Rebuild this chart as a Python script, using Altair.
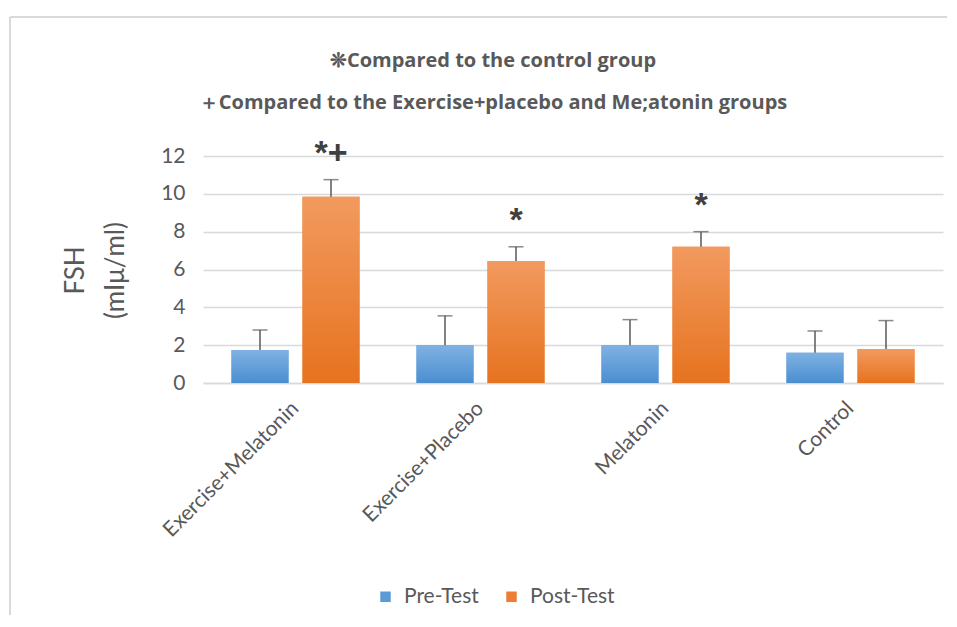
import altair as alt
import pandas as pd

groups = ["Exercise+Melatonin", "Exercise+Placebo", "Melatonin", "Control"]
series_names = ["Pre-Test", "Post-Test"]
pre_values = [1.75, 2.0, 2.0, 1.6]
pre_err_top = [2.8, 3.55, 3.35, 2.75]
post_values = [9.85, 6.45, 7.2, 1.8]
post_err_top = [10.75, 7.2, 8.0, 3.3]
post_marks = ["*+", "*", "*", ""]
title_line_1 = "❊Compared to the control group"
title_line_2 = "＋Compared to the Exercise+placebo and Me;atonin groups"
y_title = ["FSH", "(mIμ/ml)"]
y_ticks = [0, 2, 4, 6, 8, 10, 12]

rows = []
for i, g in enumerate(groups):
    rows.append({"group": g, "series": "Pre-Test", "value": pre_values[i],
                 "top": pre_err_top[i], "mark": ""})
    rows.append({"group": g, "series": "Post-Test", "value": post_values[i],
                 "top": post_err_top[i], "mark": post_marks[i]})
df = pd.DataFrame(rows)

FONT = "Lato"
GRAY = "#595959"
GRID = "#d9d9d9"

x_axis = alt.Axis(title=None, labelAngle=-45, labelAlign="right",
                  labelBaseline="middle", labelFontSize=21, labelLimit=0,
                  labelFont=FONT, labelColor=GRAY, labelPadding=22,
                  ticks=False, domainColor=GRID, domainWidth=1.5,
                  grid=False)
x_scale = alt.Scale(paddingInner=0.308, paddingOuter=0.154)
xoff = alt.XOffset("series:N", sort=series_names,
                   scale=alt.Scale(paddingInner=0.197, paddingOuter=0))
y_scale = alt.Scale(domain=[0, 12], nice=False)
y_axis = alt.Axis(values=y_ticks, title=y_title, titleFont=FONT,
                  titleFontSize=26, titleFontWeight="normal",
                  titleColor=GRAY, titleLineHeight=40,
                  titleAngle=-90, titleAlign="center",
                  titleBaseline="middle", titleX=-128, titleY=114,
                  labelFont=FONT, labelFontSize=21, labelColor=GRAY,
                  labelPadding=18, labelOverlap=False, ticks=False,
                  domain=False, gridColor=GRID, gridWidth=1.5)


def X():
    return alt.X("group:N", sort=groups, scale=x_scale, axis=x_axis)


def Y(field):
    return alt.Y(field, scale=y_scale, axis=y_axis)


grad_pre = {"gradient": "linear", "x1": 0, "y1": 0, "x2": 0, "y2": 1,
            "stops": [{"offset": 0, "color": "#7fb2e3"},
                      {"offset": 1, "color": "#4a8ed0"}]}
grad_post = {"gradient": "linear", "x1": 0, "y1": 0, "x2": 0, "y2": 1,
             "stops": [{"offset": 0, "color": "#f29a5f"},
                       {"offset": 1, "color": "#e6731f"}]}

one = alt.Data(values=[{"a": 1}])
border_top = alt.Chart(one).mark_rule(color=GRID, strokeWidth=2, clip=False).encode(
    x=alt.value(-193), x2=alt.value(760), y=alt.value(-139))
border_left = alt.Chart(one).mark_rule(color=GRID, strokeWidth=2, clip=False).encode(
    x=alt.value(-193), y=alt.value(-139), y2=alt.value(470))

title1 = alt.Chart(one).mark_text(
    text=title_line_1, font="Open Sans", fontSize=20, fontWeight="bold",
    color=GRAY, align="center", baseline="middle", clip=False
).encode(x=alt.value(290), y=alt.value(-95))
title2 = alt.Chart(one).mark_text(
    text=title_line_2, font="Open Sans", fontSize=20, fontWeight="bold",
    color=GRAY, align="center", baseline="middle", clip=False
).encode(x=alt.value(290), y=alt.value(-53))

base = alt.Chart(df)

bars_legend = base.mark_bar().encode(
    x=X(), xOffset=xoff, y=Y("value:Q"),
    color=alt.Color("series:N", sort=series_names,
                    scale=alt.Scale(domain=series_names,
                                    range=["#5b9bd5", "#ed7d31"]),
                    legend=alt.Legend(title=None, orient="none",
                                      direction="horizontal",
                                      legendX=172, legendY=430,
                                      symbolType="square", symbolSize=110,
                                      symbolStrokeWidth=0,
                                      labelFont=FONT, labelFontSize=21,
                                      labelColor=GRAY, columnPadding=22,
                                      labelOffset=8)),
)

bars_grad = base.mark_bar().encode(
    x=X(), xOffset=xoff, y=Y("value:Q"),
    fill=alt.condition("datum.series == 'Pre-Test'",
                       alt.value(grad_pre), alt.value(grad_post)),
)

err_rule = base.mark_rule(color=GRAY, strokeWidth=1.5).encode(
    x=X(), xOffset=xoff, y=Y("value:Q"), y2="top:Q",
)
err_cap = base.mark_tick(color=GRAY, thickness=1.5, size=15).encode(
    x=X(), xOffset=xoff, y=Y("top:Q"),
)

marks = base.mark_text(font="Liberation Sans", fontSize=34, fontWeight="bold",
                       color="#404040", baseline="alphabetic", dy=-16,
                       clip=False).encode(
    x=X(), xOffset=xoff, y=Y("top:Q"), text="mark:N",
)

chart = alt.layer(border_top, border_left, bars_legend, bars_grad, err_rule,
                  err_cap, marks, title1, title2).properties(
    width=740, height=227,
    padding={"left": 195, "top": 148, "right": 4, "bottom": 232},
    autosize="none",
    background="white",
).configure_view(stroke=None)

chart.save("out.html", embed_options={"renderer": "svg", "actions": False})
